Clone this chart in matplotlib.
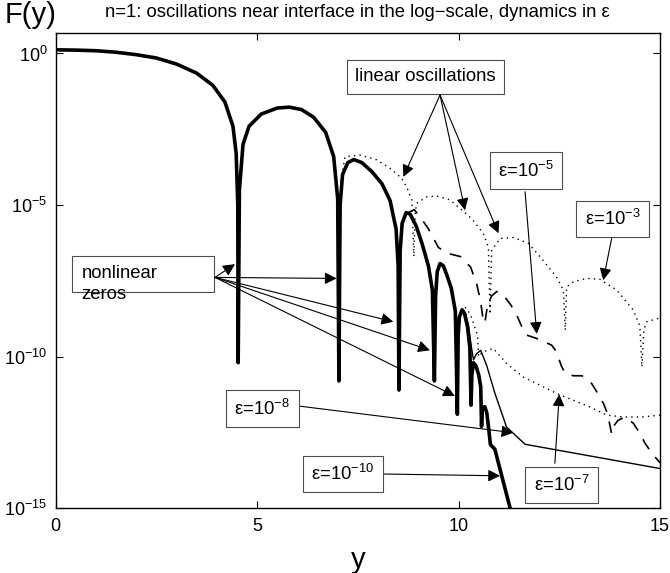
import numpy as np
import matplotlib
matplotlib.use("Agg")
import matplotlib.pyplot as plt
from matplotlib.patches import Rectangle
from matplotlib.ticker import NullLocator

plt.rcParams['font.family'] = ['Liberation Sans', 'DejaVu Sans']
plt.rcParams['mathtext.fontset'] = 'custom'
plt.rcParams['mathtext.rm'] = 'Liberation Sans'
plt.rcParams['mathtext.it'] = 'Liberation Sans:italic'

# values: x, log10 F(y)
# eps = 1e-10 (thick)
x_e10 = [0, 0.5, 1, 1.5, 2, 2.5, 3, 3.5, 3.9, 4.2, 4.4, 4.48, 4.52, 4.53,
         4.56, 4.65, 4.8, 5.1, 5.5, 5.8, 6.1, 6.4, 6.7, 6.9, 7.0, 7.03,
         7.06, 7.12, 7.25, 7.4, 7.6, 7.85, 8.1, 8.3, 8.45, 8.5, 8.52,
         8.55, 8.6, 8.7, 8.8, 8.95, 9.1, 9.25, 9.35, 9.4,
         9.43, 9.47, 9.54, 9.62, 9.72, 9.82, 9.92, 9.97,
         9.99, 10.02, 10.08, 10.15, 10.22, 10.28, 10.31,
         10.33, 10.37, 10.43, 10.5, 10.55, 10.57,
         10.59, 10.65, 10.7, 10.75, 10.79, 10.9, 11.28, 11.35]
L_e10 = [0.12, 0.11, 0.09, 0.04, -0.04, -0.15, -0.35, -0.65, -1.05, -1.6, -2.4, -3.3, -5.0, -10.2,
         -4.5, -3.0, -2.4, -2.0, -1.8, -1.77, -1.85, -2.1, -2.6, -3.4, -4.8, -10.8,
         -5.0, -4.0, -3.6, -3.5, -3.6, -3.9, -4.3, -4.85, -5.8, -7.0, -11.1,
         -6.5, -5.6, -5.25, -5.3, -5.7, -6.3, -7.0, -7.8, -10.8,
         -8.0, -7.2, -6.93, -7.0, -7.35, -7.75, -8.5, -11.9,
         -9.3, -8.7, -8.47, -8.6, -9.0, -9.7, -11.6,
         -10.6, -10.2, -10.3, -10.6, -11.0, -12.3,
         -11.7, -11.65, -11.85, -12.4, -12.9, -13.05, -15.0, -15.3]

# eps = 1e-8 (thin)
x_e8 = [9.97, 10.0, 10.04, 10.1, 10.17, 10.25, 10.32, 10.37, 10.45, 10.55,
        10.7, 10.9, 11.19, 11.32, 11.65, 15]
L_e8 = [-11.5, -9.2, -8.6, -8.42, -8.55, -9.0, -9.7, -10.1, -9.9, -9.79,
        -10.3, -11.2, -12.32, -12.48, -12.89, -13.69]

# eps = 1e-5 (dashed)
x_e5 = [8.75, 8.9, 9.05, 9.25, 9.5, 9.75, 10.05, 10.3, 10.45, 10.55, 10.6, 10.65,
        10.72, 10.82, 10.95, 11.1, 11.3, 11.45, 11.6, 11.69, 11.94, 12.31, 12.43,
        12.55, 12.64, 12.85, 13.06, 13.3, 13.43, 13.6, 13.7, 13.8, 13.84, 13.96,
        14.13, 14.34, 14.5, 14.63, 14.8, 15]
L_e5 = [-5.25, -5.15, -5.4, -5.78, -6.4, -6.6, -6.7, -7.05, -7.6, -8.2, -8.7, -8.9,
        -8.3, -8.0, -7.85, -7.95, -8.3, -8.65, -9.1, -9.29, -9.4, -9.62, -9.84,
        -10.3, -10.55, -10.63, -10.63, -10.88, -11.16, -11.55, -11.9, -12.55, -12.3, -12.1,
        -11.99, -12.2, -12.53, -12.86, -13.19, -13.5]

# eps = 1e-3 (dotted, upper)
x_e3 = [7.08, 7.18, 7.55, 7.97, 8.3, 8.59, 8.71, 8.84, 8.89,
        8.92, 8.96, 9.21, 9.46, 9.79, 10.32, 10.61, 10.74, 10.78,
        10.82, 11.03, 11.36, 11.73, 12.02, 12.43, 12.6, 12.65,
        12.68, 12.85, 13.18, 13.51, 13.92, 14.34, 14.5, 14.55,
        14.6, 14.67, 15]
L_e3 = [-4.2, -3.41, -3.35, -3.51, -3.79, -4.12, -4.4, -4.83, -6.7,
        -5.3, -4.94, -4.73, -4.70, -4.83, -5.44, -5.93, -6.38, -8.6,
        -6.5, -6.1, -6.07, -6.26, -6.7, -7.37, -7.8, -9.13,
        -7.7, -7.53, -7.42, -7.45, -7.8, -8.47, -9.0, -10.34,
        -9.1, -8.85, -8.72]

# eps = 1e-7 (dotted, lower)
x_e7 = [10.0, 10.1, 10.2, 10.32, 10.42, 10.47, 10.5, 10.56, 10.61, 10.86, 11.19,
        11.6, 12.02, 12.43, 12.85, 13.26, 13.68, 14.09, 14.54, 15]
L_e7 = [-8.8, -8.35, -8.4, -8.7, -9.1, -9.3, -10.0, -9.9, -9.84, -9.73, -10.22,
        -10.67, -10.94, -11.21, -11.44, -11.66, -11.93, -11.99, -11.99, -11.93]

fig = plt.figure(figsize=(6.7, 5.73), dpi=100)
ax = fig.add_axes([0.0831, 0.113, 0.902, 0.829])

ax.plot(x_e3, 10**np.array(L_e3), color='k', lw=1.0, linestyle=(0, (1, 3)))
ax.plot(x_e7, 10**np.array(L_e7), color='k', lw=1.0, linestyle=(0, (1, 3)))
ax.plot(x_e5, 10**np.array(L_e5), color='k', lw=1.2, dashes=(7, 6))
ax.plot(x_e8, 10**np.array(L_e8), color='k', lw=1.0)
ax.plot(x_e10, 10**np.array(L_e10), color='k', lw=2.6)

ax.set_yscale('log')
ax.set_xlim(0, 15)
ax.set_ylim(1e-15, 10**0.667)
ax.set_xticks([0, 5, 10, 15])
ax.set_yticks([1e-15, 1e-10, 1e-5, 1e0])
ax.yaxis.set_minor_locator(NullLocator())
ax.tick_params(direction='in', top=True, right=True, length=5, width=0.8, labelsize=13)
ax.tick_params(axis='x', pad=7)
ax.tick_params(axis='y', pad=6)
for s in ax.spines.values():
    s.set_linewidth(1.0)

ax.set_xlabel('y', fontsize=21, labelpad=8)
fig.text(0.045, 0.974, 'F(y)', fontsize=21, ha='center', va='center')
fig.text(0.534, 0.979, 'n=1: oscillations near interface in the log\u2212scale, dynamics in \u03b5',
         fontsize=13.3, ha='center', va='center')

arrow = dict(arrowstyle='-|>', lw=0.8, color='k', mutation_scale=18, shrinkA=0, shrinkB=0)
box = dict(boxstyle='square,pad=0.45', fc='white', ec='0.3', lw=0.8)

# nonlinear zeros
ax.add_patch(Rectangle((0.0265, 0.456), 0.236, 0.0758, transform=ax.transAxes,
                       fc='white', ec='0.3', lw=0.8, zorder=5))
ax.text(0.645, 10**-7.25, 'nonlinear', fontsize=13.3, va='center', zorder=6)
ax.text(0.645, 10**-7.95, 'zeros', fontsize=13.3, va='center', zorder=6)
nl_tips = [(4.45, -6.95), (6.974, -7.42), (8.38, -8.85), (9.29, -9.79), (9.91, -11.3)]
for tx, tl in nl_tips:
    ax.annotate('', xy=(tx, 10**tl), xytext=(3.954, 10**-7.386), arrowprops=arrow, zorder=6)

# linear oscillations
ax.text(9.186, 10**-0.776, 'linear oscillations', fontsize=13.3, ha='center', va='center',
        bbox=box, zorder=6)
lin_tips = [(8.63, -4.07), (10.16, -5.17), (10.99, -5.93)]
for tx, tl in lin_tips:
    ax.annotate('', xy=(tx, 10**tl), xytext=(9.54, 10**-1.37), arrowprops=arrow, zorder=6)

# epsilon labels: text centre, arrow start, arrow tip
eps_labels = [('\u03b5=10$^{-5}$', (11.67, -3.87), (11.65, -4.56), (11.94, -9.25)),
              ('\u03b5=10$^{-3}$', (13.82, -5.46), (13.8, -6.1), (13.59, -7.48)),
              ('\u03b5=10$^{-7}$', (12.56, -14.23), (12.39, -13.52), (12.5, -11.24)),
              ('\u03b5=10$^{-8}$', (5.13, -11.72), (6.04, -11.63), (11.36, -12.51)),
              ('\u03b5=10$^{-10}$', (7.126, -13.87), (8.106, -13.87), (11.03, -13.93))]
for lab, c, a0, a1 in eps_labels:
    ax.annotate('', xy=(a1[0], 10**a1[1]), xytext=(a0[0], 10**a0[1]), arrowprops=arrow, zorder=6)
    ax.text(c[0], 10**c[1], lab, fontsize=13.3, ha='center', va='center', bbox=box, zorder=7)

fig.savefig('out.png', dpi=100)
